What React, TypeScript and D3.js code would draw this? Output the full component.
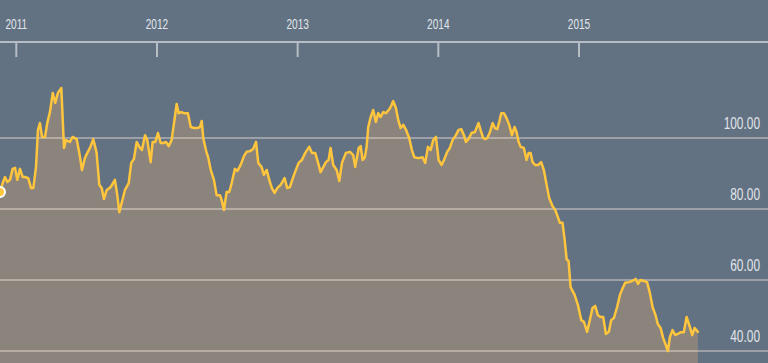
import React from "react";
import * as d3 from "d3";

const W = 768;
const H = 363;

// decimal year of each observation
const years: number[] = [
  2010.884, 2010.903, 2010.92, 2010.936, 2010.955, 2010.974, 2010.991, 2011.007, 2011.026, 2011.046,
  2011.062, 2011.085, 2011.105, 2011.121, 2011.14, 2011.154, 2011.168, 2011.183, 2011.204, 2011.22,
  2011.239, 2011.259, 2011.277, 2011.296, 2011.32, 2011.339, 2011.353, 2011.381, 2011.401, 2011.429,
  2011.448, 2011.467, 2011.488, 2011.505, 2011.524, 2011.547, 2011.571, 2011.59, 2011.607, 2011.623,
  2011.642, 2011.671, 2011.701, 2011.718, 2011.732, 2011.751, 2011.772, 2011.799, 2011.817, 2011.836,
  2011.856, 2011.874, 2011.893, 2011.915, 2011.931, 2011.955, 2011.969, 2011.988, 2012.007, 2012.026,
  2012.045, 2012.064, 2012.083, 2012.104, 2012.121, 2012.14, 2012.154, 2012.173, 2012.192, 2012.22,
  2012.24, 2012.263, 2012.286, 2012.306, 2012.318, 2012.329, 2012.348, 2012.365, 2012.382, 2012.405,
  2012.424, 2012.448, 2012.46, 2012.476, 2012.495, 2012.514, 2012.531, 2012.554, 2012.571, 2012.595,
  2012.618, 2012.637, 2012.661, 2012.684, 2012.704, 2012.72, 2012.744, 2012.76, 2012.78, 2012.798,
  2012.817, 2012.836, 2012.855, 2012.879, 2012.907, 2012.926, 2012.945, 2012.974, 2013.007, 2013.03,
  2013.054, 2013.082, 2013.102, 2013.125, 2013.144, 2013.163, 2013.182, 2013.201, 2013.22, 2013.234,
  2013.253, 2013.277, 2013.296, 2013.315, 2013.343, 2013.372, 2013.395, 2013.409, 2013.434, 2013.448,
  2013.462, 2013.478, 2013.49, 2013.502, 2013.519, 2013.537, 2013.556, 2013.573, 2013.59, 2013.608,
  2013.628, 2013.647, 2013.661, 2013.679, 2013.699, 2013.715, 2013.732, 2013.751, 2013.77, 2013.793,
  2013.812, 2013.829, 2013.85, 2013.869, 2013.888, 2013.907, 2013.926, 2013.945, 2013.964, 2013.983,
  2014.002, 2014.023, 2014.04, 2014.063, 2014.082, 2014.101, 2014.125, 2014.144, 2014.163, 2014.182,
  2014.196, 2014.215, 2014.236, 2014.26, 2014.286, 2014.3, 2014.319, 2014.331, 2014.348, 2014.367,
  2014.386, 2014.402, 2014.419, 2014.433, 2014.447, 2014.466, 2014.485, 2014.504, 2014.523, 2014.542,
  2014.556, 2014.571, 2014.585, 2014.608, 2014.627, 2014.642, 2014.656, 2014.67, 2014.688, 2014.71,
  2014.731, 2014.75, 2014.77, 2014.788, 2014.812, 2014.831, 2014.85, 2014.864, 2014.883, 2014.898,
  2014.912, 2014.926, 2014.94, 2014.969, 2014.992, 2015.016, 2015.035, 2015.058, 2015.077, 2015.096,
  2015.115, 2015.134, 2015.153, 2015.172, 2015.191, 2015.212, 2015.229, 2015.248, 2015.271, 2015.291,
  2015.31, 2015.328, 2015.354, 2015.378, 2015.402, 2015.42, 2015.437, 2015.461, 2015.484, 2015.504,
  2015.523, 2015.544, 2015.56, 2015.58, 2015.598, 2015.617, 2015.632, 2015.646, 2015.665, 2015.684,
  2015.703, 2015.722, 2015.745, 2015.765, 2015.788, 2015.805, 2015.822, 2015.845,
];

const prices: number[] = [
  84.8, 87.3, 89.0, 87.6, 88.2, 91.3, 91.6, 88.2, 91.3, 89.0,
  89.0, 88.7, 85.9, 85.9, 91.8, 102.3, 104.2, 100.3, 100.3, 104.2,
  107.3, 112.7, 109.9, 112.7, 114.1, 97.2, 99.4, 98.9, 100.3, 99.7,
  95.8, 91.0, 94.4, 95.8, 97.2, 99.7, 95.8, 86.8, 85.9, 82.8,
  85.3, 86.2, 88.2, 83.9, 79.1, 82.0, 85.3, 87.3, 93.0, 94.1,
  98.9, 97.5, 96.6, 100.8, 99.4, 93.2, 98.9, 98.9, 101.4, 98.6,
  98.6, 98.9, 97.7, 99.4, 104.2, 109.6, 107.0, 107.3, 107.0, 107.0,
  103.1, 102.8, 102.8, 103.1, 104.8, 100.0, 96.6, 94.4, 91.0, 88.2,
  83.9, 83.9, 82.5, 79.7, 84.8, 84.8, 87.3, 91.3, 90.7, 92.4,
  94.9, 96.1, 96.3, 96.9, 98.9, 93.0, 91.8, 89.6, 91.0, 88.2,
  85.9, 84.5, 85.9, 86.8, 88.7, 85.9, 86.2, 89.6, 93.0, 93.8,
  95.8, 97.5, 95.8, 95.8, 93.2, 90.4, 91.8, 93.2, 93.8, 97.2,
  92.4, 91.0, 87.9, 93.0, 95.8, 96.1, 95.2, 91.8, 97.2, 97.7,
  93.8, 94.6, 97.5, 103.1, 105.9, 107.9, 104.5, 107.0, 105.9, 107.3,
  107.0, 107.9, 108.7, 110.4, 108.4, 105.1, 102.8, 103.7, 102.3, 100.0,
  96.6, 94.6, 94.4, 94.4, 94.6, 93.0, 97.5, 96.6, 99.4, 100.3,
  93.8, 92.4, 93.8, 96.1, 97.2, 99.4, 100.8, 102.3, 102.5, 100.8,
  98.9, 99.7, 101.4, 101.7, 104.2, 102.3, 100.0, 99.7, 100.0, 101.7,
  104.2, 102.8, 102.5, 104.5, 107.0, 107.0, 105.6, 103.7, 100.8, 103.1,
  101.7, 98.9, 97.5, 97.2, 93.8, 95.8, 95.8, 93.2, 92.4, 92.4,
  93.2, 91.0, 86.8, 83.1, 80.8, 79.7, 77.7, 76.1, 76.1, 71.3,
  65.9, 65.3, 58.0, 55.8, 53.0, 48.7, 48.2, 45.4, 48.7, 52.1,
  52.7, 50.1, 49.6, 49.6, 44.8, 45.4, 48.7, 49.3, 52.4, 55.8,
  57.7, 59.2, 59.4, 59.7, 60.3, 58.9, 60.0, 59.7, 59.4, 56.3,
  52.4, 50.1, 47.6, 46.5, 43.7, 41.7, 40.0, 43.9, 45.9, 44.5,
  44.8, 45.3, 45.3, 49.6, 46.8, 44.5, 46.5, 45.4,
];

const yearTicks: number[] = [2011, 2012, 2013, 2014, 2015];
const valueTicks: number[] = [40, 60, 80, 100];

const BG = "#627282";
const AREA = "#8b847c";
const LINE = "#ffc53d";
const GRID = "rgba(255,240,228,0.38)";
const AXIS = "#b7bdc4";
const TEXT = "#e1e5ea";

export default function App() {
  const x = d3.scaleLinear().domain([2011, 2015]).range([16.3, 579]);
  const y = d3.scaleLinear().domain([40, 100]).range([351, 138]);

  const data = years.map((yr, i) => ({ yr, v: prices[i] }));

  const line = d3
    .line<{ yr: number; v: number }>()
    .x((d) => x(d.yr))
    .y((d) => y(d.v));
  const area = d3
    .area<{ yr: number; v: number }>()
    .x((d) => x(d.yr))
    .y0(H)
    .y1((d) => y(d.v));

  const first = data[0];
  const axisY = 42;
  const font = "'Liberation Sans', Arial, Helvetica, sans-serif";

  return (
    <svg
      width={W}
      height={H}
      style={{ position: "fixed", left: 0, top: 0, display: "block" }}
    >
      <rect x={0} y={0} width={W} height={H} fill={BG} />
      <path d={area(data) || ""} fill={AREA} />
      {valueTicks.map((t) => (
        <g key={t}>
          <line x1={0} x2={W} y1={y(t)} y2={y(t)} stroke={GRID} strokeWidth={2} />
          <text
            transform={`translate(760,${y(t) - 9}) scale(0.7,1)`}
            textAnchor="end"
            fontFamily={font}
            fontSize={17}
            fill={TEXT}
          >
            {t.toFixed(2)}
          </text>
        </g>
      ))}
      <line x1={0} x2={W} y1={axisY} y2={axisY} stroke={AXIS} strokeWidth={2} />
      {yearTicks.map((t) => (
        <g key={t}>
          <line x1={x(t)} x2={x(t)} y1={axisY} y2={axisY + 15} stroke={AXIS} strokeWidth={2} />
          <text
            transform={`translate(${x(t)},29) scale(0.72,1)`}
            textAnchor="middle"
            fontFamily={font}
            fontSize={14}
            fill={TEXT}
          >
            {t}
          </text>
        </g>
      ))}
      <path
        d={line(data) || ""}
        fill="none"
        stroke={LINE}
        strokeWidth={2.5}
        strokeLinejoin="round"
        strokeLinecap="round"
      />
      <circle cx={x(first.yr)} cy={y(first.v)} r={5} fill={LINE} stroke="#ffffff" strokeWidth={2} />
    </svg>
  );
}
